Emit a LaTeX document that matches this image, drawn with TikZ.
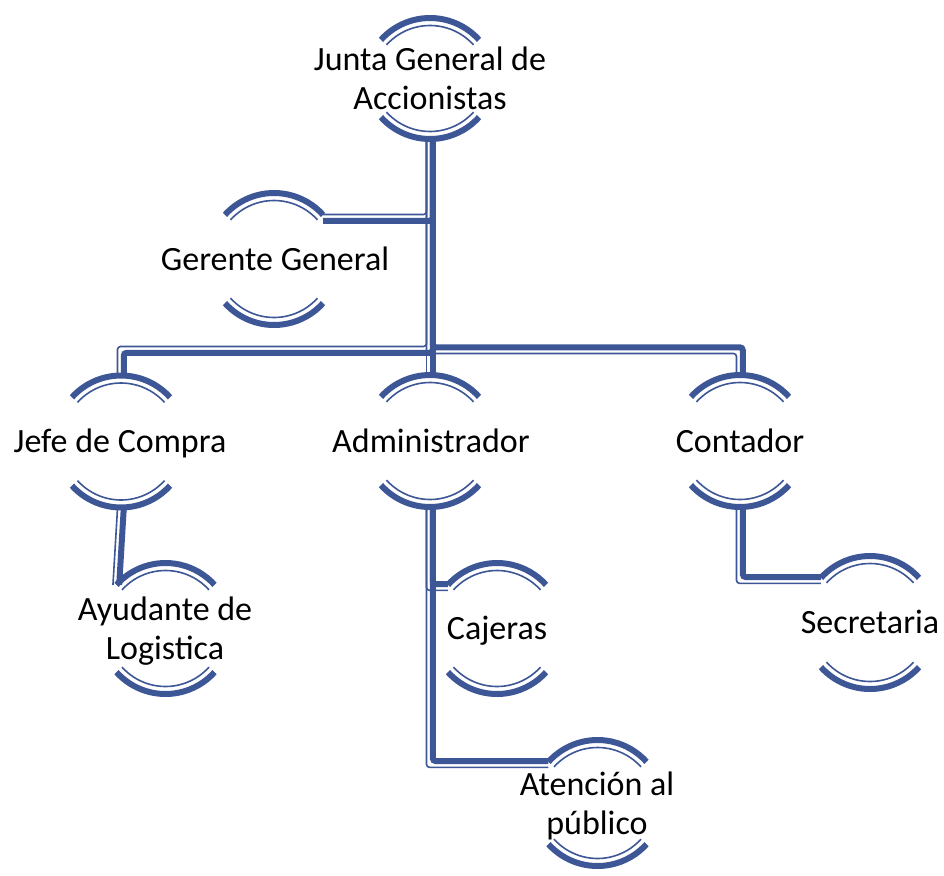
\documentclass[tikz,border=0pt]{standalone}
\usepackage{fontspec}
\setmainfont{Carlito}
\usetikzlibrary{calc}
\definecolor{arcblue}{RGB}{60,86,150}
\newcommand\lblstrut{\rule[-6pt]{0pt}{34pt}}
\newcommand\nodearcs[2]{%
  \draw[thk] ($(#1)+(138:66pt)$) arc[start angle=138,end angle=42,radius=66pt];
  \draw[thn] ($(#1)+(138:58.5pt)$) arc[start angle=138,end angle=42,radius=58.5pt];
  \draw[thk] ($(#2)+(222:66pt)$) arc[start angle=222,end angle=318,radius=66pt];
  \draw[thn] ($(#2)+(222:58.5pt)$) arc[start angle=222,end angle=318,radius=58.5pt];
}
\begin{document}
\begin{tikzpicture}[x=1pt,y=-1pt,
  thk/.style={draw=arcblue,line width=6pt},
  thn/.style={draw=arcblue,line width=1.6pt},
  conthk/.style={draw=arcblue,line width=6pt,rounded corners=3pt},
  conthn/.style={draw=arcblue,line width=1.6pt,rounded corners=3pt},
  lbl/.style={font=\fontsize{34}{39}\selectfont,align=center,inner sep=0pt,text=black,anchor=center}]
\useasboundingbox (0,0) rectangle (944,875);
% arc centres (top arc, bottom arc)
\coordinate (junta-t) at (430,84);   \coordinate (junta-b) at (430,73);
\coordinate (gerente-t) at (274,259); \coordinate (gerente-b) at (274,259);
\coordinate (jefe-t) at (121,441.5); \coordinate (jefe-b) at (121,441.5);
\coordinate (admin-t) at (430,441);  \coordinate (admin-b) at (430,441);
\coordinate (contador-t) at (740,441); \coordinate (contador-b) at (740,441);
\coordinate (ayudante-t) at (165.5,629); \coordinate (ayudante-b) at (165.5,628);
\coordinate (cajeras-t) at (497,629); \coordinate (cajeras-b) at (497,628);
\coordinate (secretaria-t) at (870,622); \coordinate (secretaria-b) at (870,623);
\coordinate (atencion-t) at (597.5,806); \coordinate (atencion-b) at (597.5,800);
% attach points
\coordinate (jb) at ($(junta-b)+(0,67)$);
\coordinate (jefeb) at ($(jefe-b)+(0,67)$);
\coordinate (adminb) at ($(admin-b)+(0,67)$);
\coordinate (contb) at ($(contador-b)+(0,67)$);
\coordinate (bus) at (430,350);
\coordinate (gj) at (430,218);
\coordinate (ger-r) at ($(gerente-t)+(42:66pt)$);
\coordinate (ayu-l) at ($(ayudante-t)+(138:66pt)$);
\coordinate (caj-l) at ($(cajeras-t)+(138:66pt)$);
\coordinate (sec-l) at ($(secretaria-t)+(138:66pt)$);
\coordinate (ate-l) at ($(atencion-t)+(138:66pt)$);
% connectors: thick on the left of travel, thin on the right
% Junta -> Jefe
\draw[conthk] ($(jb)+(2.75,0)$) -- ($(bus)+(2.75,2.75)$) -- ($(jefe-t|-bus)+(2.75,2.75)$) -- ($(jefe-t)+(2.75,-65)$);
\draw[conthn] ($(jb)+(-3.5,0)$) -- ($(bus)+(-3.5,-3.5)$) -- ($(jefe-t|-bus)+(-3.5,-3.5)$) -- ($(jefe-t)+(-3.5,-65)$);
% Junta -> Administrador
\draw[conthk] ($(jb)+(2.75,0)$) -- ($(admin-t)+(2.75,-65)$);
\draw[conthn] ($(jb)+(-3.5,0)$) -- ($(admin-t)+(-3.5,-65)$);
% Junta -> Contador
\draw[conthk] ($(jb)+(2.75,0)$) -- ($(bus)+(2.75,-2.75)$) -- ($(contador-t|-bus)+(2.75,-2.75)$) -- ($(contador-t)+(2.75,-65)$);
\draw[conthn] ($(jb)+(-3.5,0)$) -- ($(bus)+(-3.5,3.5)$) -- ($(contador-t|-bus)+(-3.5,3.5)$) -- ($(contador-t)+(-3.5,-65)$);
% Junta -> Gerente
\draw[conthk] ($(jb)+(2.75,0)$) -- ($(gj)+(2.75,2.75)$) -- ($(ger-r|-gj)+(0,2.75)$);
\draw[conthn] ($(jb)+(-3.5,0)$) -- ($(gj)+(-3.5,-3.5)$) -- ($(ger-r|-gj)+(0,-3.5)$);
% Jefe -> Ayudante
\draw[conthk] ($(jefeb)+(2.75,0)$) -- ($(ayu-l)+(2.75,0)$);
\draw[conthn] ($(jefeb)+(-3.5,0)$) -- ($(ayu-l)+(-3.5,0)$);
% Administrador -> Cajeras
\draw[conthk] ($(adminb)+(2.75,0)$) -- ($(adminb|-caj-l)+(2.75,-0.75)$) -- ($(caj-l)+(0,-0.75)$);
\draw[conthn] ($(adminb)+(-3.5,0)$) -- ($(adminb|-caj-l)+(-3.5,5.5)$) -- ($(caj-l)+(0,5.5)$);
% Administrador -> Atencion
\draw[conthk] ($(adminb)+(2.75,0)$) -- ($(adminb|-ate-l)+(2.75,-0.75)$) -- ($(ate-l)+(0,-0.75)$);
\draw[conthn] ($(adminb)+(-3.5,0)$) -- ($(adminb|-ate-l)+(-3.5,5.5)$) -- ($(ate-l)+(0,5.5)$);
% Contador -> Secretaria
\draw[conthk] ($(contb)+(2.75,0)$) -- ($(contb|-sec-l)+(2.75,-0.75)$) -- ($(sec-l)+(0,-0.75)$);
\draw[conthn] ($(contb)+(-3.5,0)$) -- ($(contb|-sec-l)+(-3.5,5.5)$) -- ($(sec-l)+(0,5.5)$);
% arcs
\nodearcs{junta-t}{junta-b}
\nodearcs{gerente-t}{gerente-b}
\nodearcs{jefe-t}{jefe-b}
\nodearcs{admin-t}{admin-b}
\nodearcs{contador-t}{contador-b}
\nodearcs{ayudante-t}{ayudante-b}
\nodearcs{cajeras-t}{cajeras-b}
\nodearcs{secretaria-t}{secretaria-b}
\nodearcs{atencion-t}{atencion-b}
% labels
\node[lbl] (junta) at (430,78.5) {\lblstrut Junta General de\\\lblstrut Accionistas};
\node[lbl] (gerente) at (275,259) {\lblstrut Gerente General};
\node[lbl] (jefe) at (120,441) {\lblstrut Jefe de Compra};
\node[lbl] (admin) at (431,441) {\lblstrut Administrador};
\node[lbl] (contador) at (740,441) {\lblstrut Contador};
\node[lbl] (ayudante) at (165,629) {\lblstrut Ayudante de\\\lblstrut Logistica};
\node[lbl] (cajeras) at (497,628.5) {\lblstrut Cajeras};
\node[lbl] (secretaria) at (870,622.5) {\lblstrut Secretaria};
\node[lbl] (atencion) at (597,804) {\lblstrut Atención al\\\lblstrut público};
\end{tikzpicture}
\end{document}
